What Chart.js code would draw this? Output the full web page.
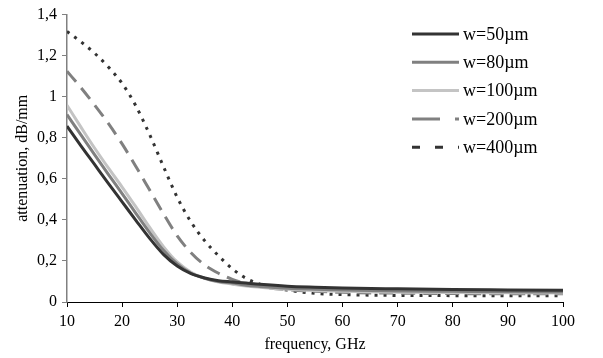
<!DOCTYPE html>
<html><head><meta charset="utf-8">
<script src="https://cdn.jsdelivr.net/npm/chart.js@4/dist/chart.umd.min.js"></script>
<style>html,body{margin:0;padding:0;background:#fff}#wrap{width:603px;height:358px;position:relative}</style>
</head><body><div id="wrap"><canvas id="c" width="603" height="358"></canvas></div>
<script>
const freq = [10,12.5,15,17.5,20,22.5,25,27.5,30,32.5,35,37.5,40,42.5,45,50,55,60,70,80,90,100];
const w50  = [0.857,0.762,0.67,0.578,0.488,0.398,0.31,0.232,0.175,0.138,0.117,0.104,0.098,0.092,0.086,0.077,0.072,0.068,0.064,0.061,0.059,0.057];
const w80  = [0.913,0.815,0.718,0.622,0.528,0.432,0.338,0.252,0.185,0.14,0.115,0.10,0.092,0.082,0.076,0.067,0.062,0.058,0.054,0.052,0.05,0.049];
const w100 = [0.958,0.853,0.75,0.653,0.56,0.463,0.363,0.27,0.195,0.145,0.115,0.097,0.087,0.078,0.072,0.062,0.056,0.052,0.048,0.046,0.045,0.044];
const w200 = [1.124,1.045,0.96,0.87,0.77,0.66,0.545,0.43,0.322,0.24,0.18,0.14,0.11,0.09,0.075,0.06,0.052,0.047,0.043,0.041,0.04,0.04];
const w400 = [1.318,1.268,1.212,1.145,1.065,0.955,0.815,0.66,0.51,0.39,0.298,0.225,0.162,0.115,0.087,0.058,0.042,0.036,0.032,0.031,0.03,0.03];
const seriesNames = ['w=50\u00b5m','w=80\u00b5m','w=100\u00b5m','w=200\u00b5m','w=400\u00b5m'];
const xTicks = [10,20,30,40,50,60,70,80,90,100];
const yTicks = [0,0.2,0.4,0.6,0.8,1,1.2,1.4];

const serif = '"Liberation Serif","Times New Roman",serif';
const styles = [
  {c:'#333333', w:3, d:[], ld:[]},
  {c:'#808080', w:3, d:[], ld:[]},
  {c:'#c4c4c4', w:3, d:[], ld:[]},
  {c:'#808080', w:3, d:[14,8], ld:[28,15]},
  {c:'#333333', w:3, d:[3,6], ld:[8,15]}
];
const vals = [w50,w80,w100,w200,w400];
const datasets = vals.map((v,i)=>({
  label: seriesNames[i],
  data: freq.map((f,j)=>({x:f,y:v[j]})),
  borderColor: styles[i].c, borderWidth: styles[i].w, borderDash: styles[i].d,
  pointRadius:0, fill:false, cubicInterpolationMode:'monotone'
}));

const legendPlugin = {
  id:'customLegend',
  afterDraw(chart){
    const ctx = chart.ctx;
    ctx.save();
    const x0=412, x1=459, tx=463, y0=34, dy=28.3;
    chart.data.datasets.forEach((ds,i)=>{
      const y=y0+i*dy;
      ctx.beginPath();
      ctx.strokeStyle=ds.borderColor; ctx.lineWidth=ds.borderWidth;
      ctx.setLineDash(styles[i].ld);
      ctx.moveTo(x0,y); ctx.lineTo(x1,y); ctx.stroke();
      ctx.setLineDash([]);
      ctx.fillStyle='#000'; ctx.font='18px '+serif;
      ctx.textBaseline='middle'; ctx.textAlign='left';
      ctx.fillText(ds.label, tx, y+1);
    });
    ctx.restore();
  }
};

new Chart(document.getElementById('c'), {
  type:'line',
  data:{datasets},
  options:{
    responsive:false, animation:false,
    layout:{padding:{top:13,right:40,left:9,bottom:0}},
    plugins:{legend:{display:false}, tooltip:{enabled:false}},
    scales:{
      x:{type:'linear', min:10, max:100,
        afterBuildTicks(s){ s.ticks = xTicks.map(v=>({value:v})); },
        afterFit(s){ s.height = 56; },
        grid:{drawOnChartArea:false, drawTicks:true, tickLength:5, color:'#000'},
        border:{color:'#000', width:1},
        ticks:{color:'#000', font:{family:serif,size:16}, padding:5, maxRotation:0},
        title:{display:true, text:'frequency, GHz', color:'#000', font:{family:serif,size:16}, padding:{top:2}}
      },
      y:{min:0, max:1.4,
        afterBuildTicks(s){ s.ticks = yTicks.map(v=>({value:v})); },
        afterFit(s){ s.width = 58; },
        grid:{drawOnChartArea:false, drawTicks:true, tickLength:5, color:'#808080'},
        border:{color:'#808080', width:1.5},
        ticks:{color:'#000', font:{family:serif,size:16}, padding:5,
          callback:v=>String(Math.round(v*10)/10).replace('.',',')},
        title:{display:true, text:'attenuation, dB/mm', color:'#000', font:{family:serif,size:16}, padding:{top:4,bottom:0}}
      }
    }
  },
  plugins:[legendPlugin]
});
</script></body></html>
